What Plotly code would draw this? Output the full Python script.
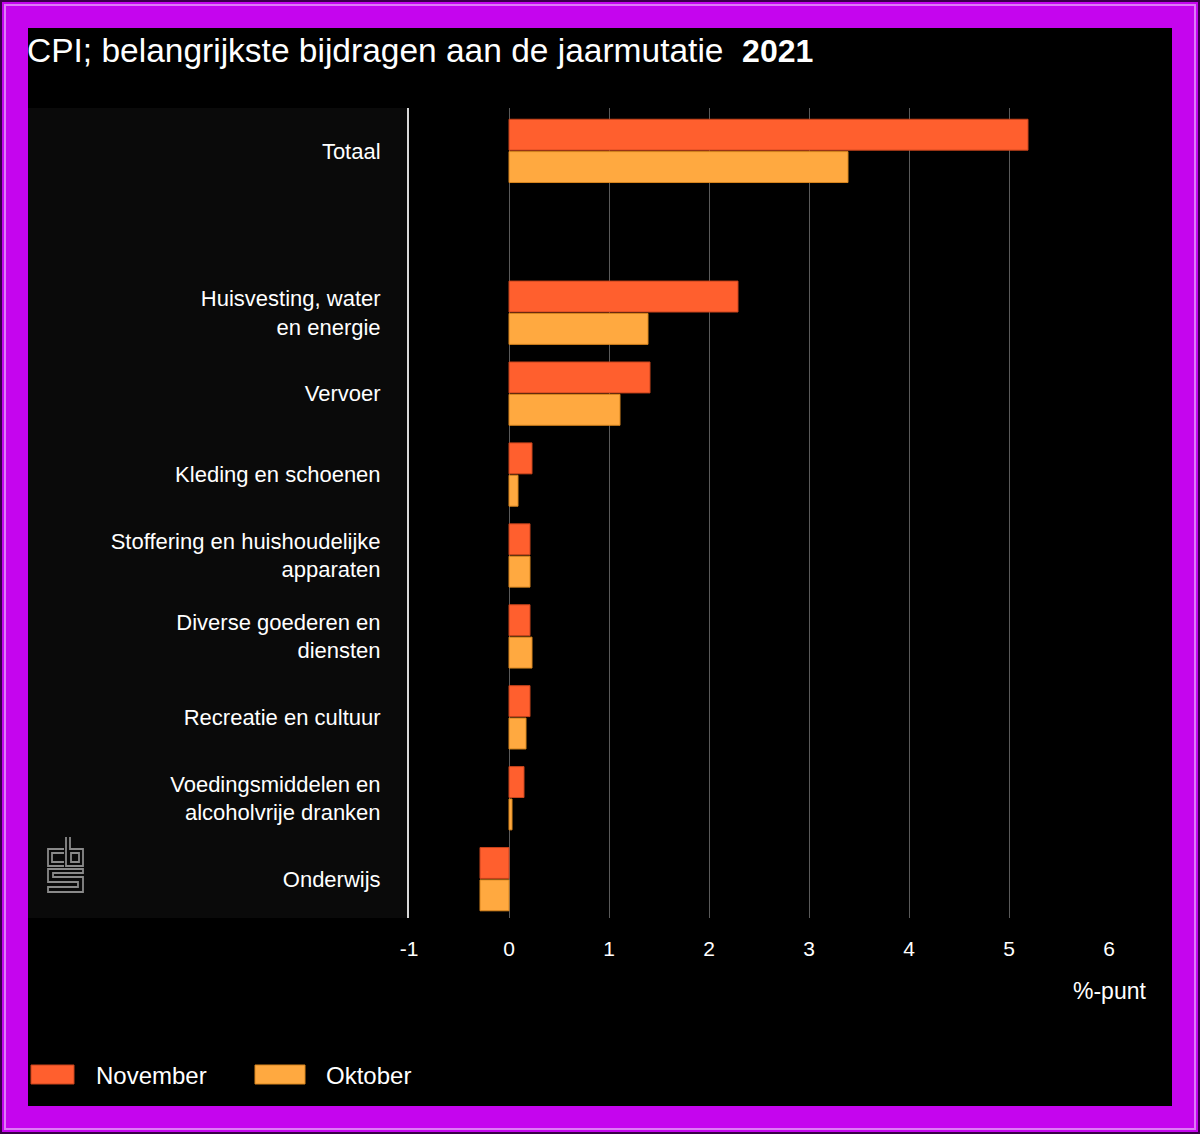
import plotly.graph_objects as go

# ---- data ----
categories = [
    "Totaal",
    " ",
    "Huisvesting, water<br>en energie",
    "Vervoer",
    "Kleding en schoenen",
    "Stoffering en huishoudelijke<br>apparaten",
    "Diverse goederen en<br>diensten",
    "Recreatie en cultuur",
    "Voedingsmiddelen en<br>alcoholvrije dranken",
    "Onderwijs",
]
bar_categories = [c for c in categories if c.strip()]
november = [5.19, 2.29, 1.41, 0.23, 0.21, 0.21, 0.21, 0.15, -0.29]
oktober = [3.39, 1.39, 1.11, 0.09, 0.21, 0.23, 0.17, 0.03, -0.29]
x_ticks = [-1, 0, 1, 2, 3, 4, 5, 6]
series_names = ["November", "Oktober"]
title_text = "CPI; belangrijkste bijdragen aan de jaarmutatie"
title_year = "2021"
unit_label = "%-punt"

# ---- styling ----
W, H = 1200, 1134
L, R, T, B = 409, 1109, 108, 918
FONT = "Liberation Sans, Arial, sans-serif"
NOV_COL, NOV_EDGE = "#FF5F2E", "#C8441C"
OKT_COL, OKT_EDGE = "#FFA940", "#D9861F"
MAGENTA = "#C505EE"


def px(X):
    return (X - L) / (R - L)


def py(Y):
    return (B - Y) / (B - T)


fig = go.Figure()
fig.add_trace(go.Bar(
    y=bar_categories, x=november, orientation="h", name=series_names[0],
    marker=dict(color=NOV_COL, line=dict(color=NOV_EDGE, width=1)),
    showlegend=False,
))
fig.add_trace(go.Bar(
    y=bar_categories, x=oktober, orientation="h", name=series_names[1],
    marker=dict(color=OKT_COL, line=dict(color=OKT_EDGE, width=1)),
    showlegend=False,
))

shapes = []
# outer frame lines
shapes.append(dict(type="rect", xref="paper", yref="paper", layer="below",
                   x0=px(1), x1=px(1199), y0=py(1), y1=py(1133),
                   line=dict(color="#3a0048", width=2), fillcolor=MAGENTA))
shapes.append(dict(type="rect", xref="paper", yref="paper", layer="below",
                   x0=px(5), x1=px(1195), y0=py(5), y1=py(1129),
                   line=dict(color="#DE7CF6", width=2), fillcolor=MAGENTA))
# black canvas
shapes.append(dict(type="rect", xref="paper", yref="paper", layer="below",
                   x0=px(28), x1=px(1172), y0=py(28), y1=py(1106),
                   line=dict(width=0), fillcolor="#000000"))
# left label panel
shapes.append(dict(type="rect", xref="paper", yref="paper", layer="below",
                   x0=px(28), x1=px(409), y0=py(108), y1=py(918),
                   line=dict(width=0), fillcolor="#0A0A0A"))

# legend swatches
shapes.append(dict(type="rect", xref="paper", yref="paper",
                   x0=px(31), x1=px(74), y0=py(1084), y1=py(1065),
                   line=dict(color=NOV_EDGE, width=1), fillcolor=NOV_COL))
shapes.append(dict(type="rect", xref="paper", yref="paper",
                   x0=px(255), x1=px(305), y0=py(1084), y1=py(1065),
                   line=dict(color=OKT_EDGE, width=1), fillcolor=OKT_COL))


# cbs logo (line drawing)
def path(points, close=False):
    s = "M" + " L".join(f"{px(x):.5f},{py(y):.5f}" for x, y in points)
    return s + (" Z" if close else "")


logo_col = "#8A8A8A"
logo_paths = [
    # c
    [(64, 849), (48, 849), (48, 866), (64, 866)],
    [(64, 853), (52, 853), (52, 862), (64, 862)],
    # b
    [(66, 837), (66, 866), (83, 866), (83, 849), (70, 849), (70, 837)],
    [(71, 853), (79, 853), (79, 862), (71, 862)],
    # S
    [(83, 869), (48, 869), (48, 882), (78, 882), (78, 887), (48, 887), (48, 892), (83, 892), (83, 877), (53, 877), (53, 873), (83, 873)],
]
for i, pts in enumerate(logo_paths):
    shapes.append(dict(type="path", xref="paper", yref="paper",
                       path=path(pts, close=(i in (3, 4))),
                       line=dict(color=logo_col, width=1.8)))

annotations = [
    dict(xref="paper", yref="paper", x=px(25), y=py(51), xanchor="left", yanchor="middle",
         text=f"{title_text}\u00a0 <span style='font-size:32px'><b>{title_year}</b></span>",
         showarrow=False,
         font=dict(family=FONT, size=33.5, color="white")),
    dict(xref="x", yref="paper", x=6, y=py(991), xanchor="center", yanchor="middle",
         text=unit_label, showarrow=False, font=dict(family=FONT, size=23, color="white")),
    dict(xref="paper", yref="paper", x=px(94), y=py(1075), xanchor="left", yanchor="middle",
         text=series_names[0], showarrow=False, font=dict(family=FONT, size=24, color="white")),
    dict(xref="paper", yref="paper", x=px(324), y=py(1075), xanchor="left", yanchor="middle",
         text=series_names[1], showarrow=False, font=dict(family=FONT, size=24, color="white")),
]

fig.update_layout(
    width=W, height=H,
    margin=dict(l=L, r=W - R, t=T, b=H - B, pad=0),
    paper_bgcolor=MAGENTA,
    plot_bgcolor="rgba(0,0,0,0)",
    barmode="group",
    bargap=0.2,
    bargroupgap=0.045,
    showlegend=False,
    shapes=shapes,
    annotations=annotations,
    font=dict(family=FONT, size=22, color="white"),
    xaxis=dict(
        range=[-1, 6], tickvals=x_ticks, ticktext=[str(v) for v in x_ticks],
        showgrid=True, gridcolor="#5A5A5A", gridwidth=1, zeroline=False,
        ticks="", ticklabelstandoff=16, showline=False,
        tickfont=dict(family=FONT, size=21, color="white"),
        fixedrange=True,
    ),
    yaxis=dict(
        type="category", categoryorder="array", categoryarray=categories,
        range=[9.48, -0.53], showgrid=False, zeroline=False,
        showline=True, linecolor="#D8D8D8", linewidth=2,
        ticks="", ticklabelstandoff=22,
        tickfont=dict(family=FONT, size=22, color="white"),
        fixedrange=True,
    ),
)

fig.write_html(
    "out.html",
    config={"displayModeBar": False, "responsive": False},
    post_script="document.body.style.margin='0';document.body.style.overflow='hidden';",
)
